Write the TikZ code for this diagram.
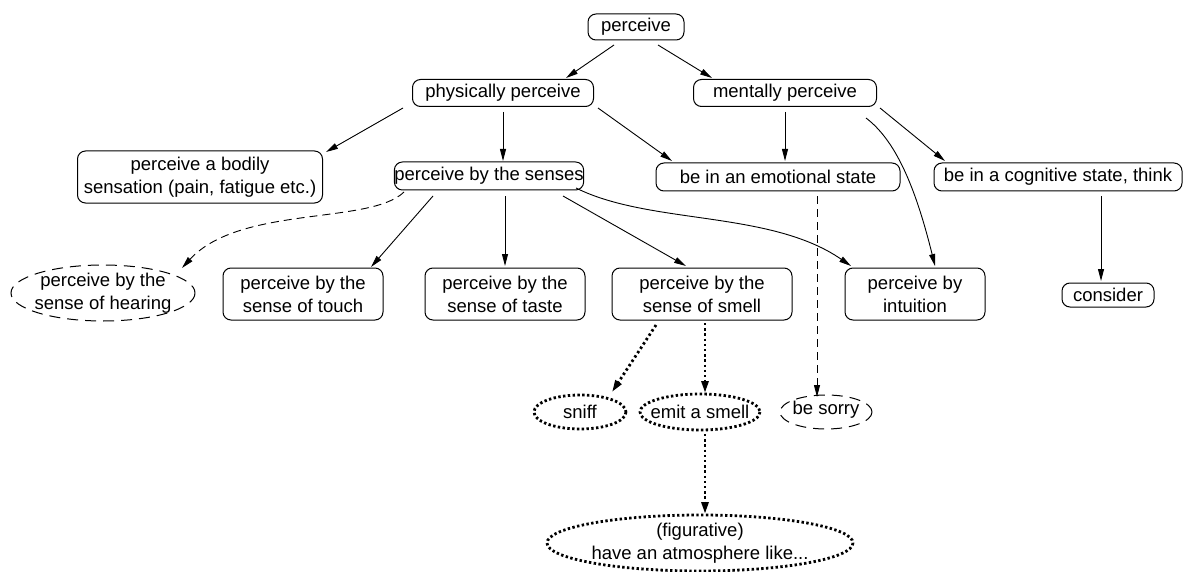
\documentclass[tikz,border=0pt]{standalone}
\usepackage{fontspec}
\setmainfont{Liberation Sans}
\usetikzlibrary{arrows.meta,calc}
\begin{document}
\begin{tikzpicture}[x=1pt,y=-1pt,
  every node/.style={font=\fontsize{18.5}{23}\selectfont, align=center, inner sep=0pt},
  rbox/.style 2 args={draw, rounded corners=8pt, line width=1pt, minimum width=#1, minimum height=#2},
  ebox/.style 2 args={minimum width=#1, minimum height=#2},
  dashline/.style={line width=1pt, dash pattern=on 11pt off 7pt},
  dotline/.style={line width=2.8pt, dash pattern=on 2.4pt off 2.4pt},
  arr/.style={-{Triangle[length=12pt,width=6pt]}, line width=0.9pt},
  darr/.style={arr, dash pattern=on 8pt off 5pt},
  oarr/.style={-{Triangle[length=12pt,width=7pt]}, line width=2.8pt, dash pattern=on 2.4pt off 2.8pt},
]
\useasboundingbox[fill=white] (0,0) rectangle (1193,572);

% nodes
\node[rbox={96pt}{26pt}]   (perceive) at (636,27)  {perceive};
\node[rbox={181pt}{27pt}]  (phys)     at (503,93)  {physically perceive};
\node[rbox={183pt}{27pt}]  (ment)     at (785,93)  {mentally perceive};
\node[rbox={245pt}{52pt}]  (bodily)   at (200,177) {perceive a bodily\\sensation (pain, fatigue etc.)};
\node[rbox={178pt}{28pt}]  (senses)   at (489,176) {perceive by the senses};
\node[rbox={244pt}{28pt}]  (emot)     at (778,177) {be in an emotional state};
\node[rbox={248pt}{28pt}]  (cogn)     at (1058,177) {be in a cognitive state, think};
\node[ebox={184pt}{56pt}]  (hear)     at (103,293) {perceive by the\\sense of hearing};
\node[rbox={160pt}{52pt}]  (touch)    at (303,294) {perceive by the\\sense of touch};
\node[rbox={160pt}{52pt}]  (taste)    at (505,294) {perceive by the\\sense of taste};
\node[rbox={180pt}{52pt}]  (smell)    at (702,294) {perceive by the\\sense of smell};
\node[rbox={140pt}{52pt}]  (intu)     at (915,294) {perceive by\\intuition};
\node[rbox={92pt}{24pt}]   (consid)   at (1108,295) {consider};
\node[ebox={92pt}{34pt}]   (sniff)    at (580,412) {sniff};
\node[ebox={120pt}{36pt}]  (emit)     at (700,412) {emit a smell};
\node[ebox={92pt}{34pt}]   (sorry)    at (826,410) {be sorry};
\node[ebox={306pt}{56pt}]  (fig)      at (700,543) {(figurative)\\have an atmosphere like...};

% ellipse outlines
\draw[dashline] (hear.center) ellipse [x radius=92, y radius=28];
\draw[dashline] ($(sorry.center)+(0,2)$) ellipse [x radius=46, y radius=17];
\draw[dotline] (sniff.center) ellipse [x radius=46, y radius=17];
\draw[dotline] (emit.center) ellipse [x radius=60, y radius=18];
\draw[dotline] (fig.center) ellipse [x radius=153, y radius=28];

% connectors
\draw[arr] ($(perceive)+(-22,18)$) -- ($(phys)+(63,-15)$);
\draw[arr] ($(perceive)+(22,18)$) -- ($(ment)+(-73,-15)$);
\draw[arr] ($(phys)+(-100,15)$) -- ($(bodily)+(126,-25)$);
\draw[arr] ($(phys)+(0,19)$) -- ($(senses)+(14,-15)$);
\draw[arr] ($(phys)+(95,15)$) -- ($(emot)+(-106,-16)$);
\draw[arr] ($(ment)+(0,19)$) -- ($(emot)+(7,-16)$);
\draw[arr] ($(ment)+(95,15)$) -- ($(cogn)+(-113,-16)$);
\draw[arr] ($(ment)+(81,25)$) .. controls ($(ment)+(110,47)$) and ($(intu)+(0,-109)$) .. ($(intu)+(20,-28)$);
\draw[darr] ($(senses)+(-85,16)$) .. controls ($(senses)+(-119,49)$) and ($(hear)+(137,-88)$) .. ($(hear)+(79,-25)$);
\draw[arr] ($(senses)+(-56,20)$) -- ($(touch)+(68,-27)$);
\draw[arr] ($(senses)+(16,20)$) -- ($(taste)+(0,-28)$);
\draw[arr] ($(senses)+(74,20)$) -- ($(smell)+(-16,-28)$);
\draw[arr] ($(senses)+(87,12)$) .. controls ($(senses)+(161,49)$) and ($(intu)+(-145,-84)$) .. ($(intu)+(-64,-28)$);
\draw[darr] ($(emot)+(39,19)$) -- ($(sorry)+(-9,-13)$);
\draw[arr] ($(cogn)+(43,19)$) -- ($(consid)+(-7,-14)$);
\draw[oarr] ($(smell)+(-46,31)$) -- ($(sniff)+(32,-20)$);
\draw[oarr] ($(smell)+(3,29)$) -- ($(emit)+(5,-19)$);
\draw[oarr] ($(emit)+(5,22)$) -- ($(fig)+(5,-29)$);
\end{tikzpicture}
\end{document}
